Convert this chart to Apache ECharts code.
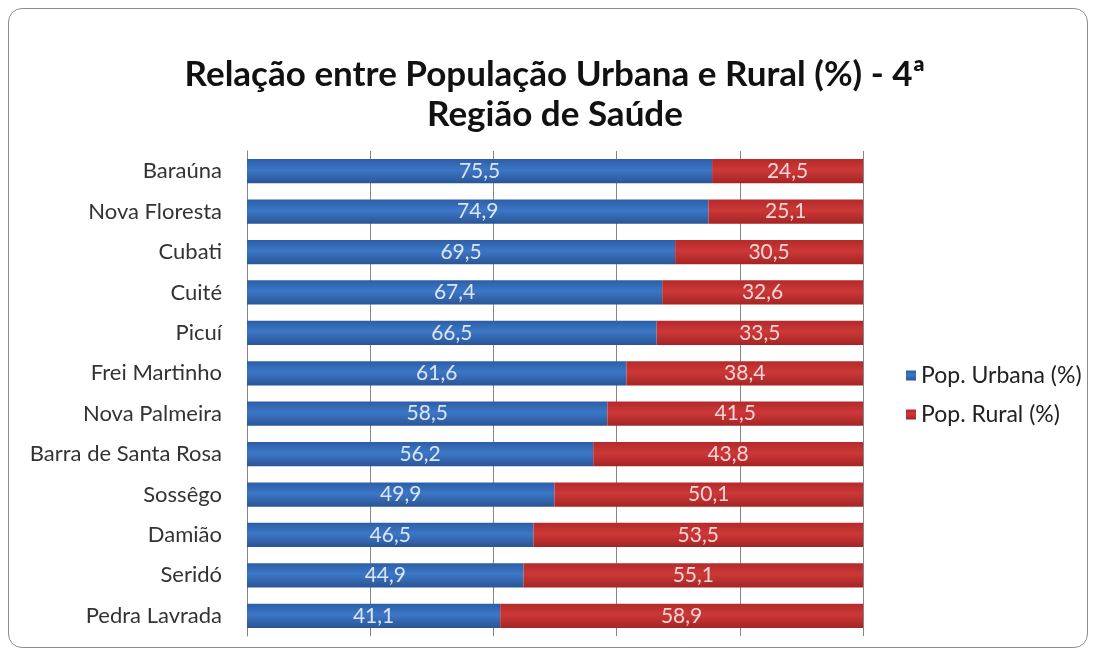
<!DOCTYPE html>
<html>
<head>
<meta charset="utf-8">
<script src="https://cdn.jsdelivr.net/npm/echarts@6/dist/echarts.min.js"></script>
<style>
  html, body { margin: 0; padding: 0; background: #fff; }
  #frame {
    position: absolute; left: 8px; top: 8px; width: 1080px; height: 640px;
    border: 1.5px solid #8c8c8c; border-radius: 14px; box-sizing: border-box;
  }
  #chart { position: absolute; left: 0; top: 0; width: 1097px; height: 655px; }
</style>
</head>
<body>
<div id="frame"></div>
<div id="chart"></div>
<script>
const cidades = ['Baraúna', 'Nova Floresta', 'Cubati', 'Cuité', 'Picuí', 'Frei Martinho',
  'Nova Palmeira', 'Barra de Santa Rosa', 'Sossêgo', 'Damião', 'Seridó', 'Pedra Lavrada']
const urbana = [75.5, 74.9, 69.5, 67.4, 66.5, 61.6, 58.5, 56.2, 49.9, 46.5, 44.9, 41.1]
const rural = [24.5, 25.1, 30.5, 32.6, 33.5, 38.4, 41.5, 43.8, 50.1, 53.5, 55.1, 58.9]

const fmt = (p) => p.value.toFixed(1).replace('.', ',')

const grad = (top, mid, bot) => new echarts.graphic.LinearGradient(0, 0, 0, 1, [
  {offset: 0, color: top}, {offset: 0.45, color: mid}, {offset: 1, color: bot}
])

const chart = echarts.init(document.getElementById('chart'))
const option = {
  textStyle: {fontFamily: 'Lato, "Open Sans", sans-serif'},
  title: {
    text: 'Relação entre População Urbana e Rural (%) - 4ª\nRegião de Saúde',
    left: 550, top: 50, textAlign: 'center',
    textStyle: {fontSize: 35, fontWeight: 'bold', color: '#111', lineHeight: 40}
  },
  legend: {
    orient: 'vertical',
    left: 901, top: 359,
    itemGap: 16,
    itemWidth: 10, itemHeight: 10,
    icon: 'rect',
    textStyle: {fontSize: 23, color: '#222'},
    data: ['Pop. Urbana (%)', 'Pop. Rural (%)']
  },
  grid: {left: 247, right: 234, top: 151, bottom: 19},
  xAxis: {
    type: 'value', min: 0, max: 100, interval: 20,
    axisLabel: {show: false},
    axisLine: {show: false},
    axisTick: {show: false},
    splitLine: {lineStyle: {color: '#868686', width: 1}}
  },
  yAxis: {
    type: 'category', data: cidades, inverse: true,
    axisLine: {lineStyle: {color: '#868686'}},
    axisTick: {show: false},
    axisLabel: {fontSize: 22, color: '#333', margin: 25}
  },
  series: [
    {
      name: 'Pop. Urbana (%)', type: 'bar', stack: 'total', barWidth: '60%',
      data: urbana,
      itemStyle: {color: grad('#2d5ea6', '#3c77c6', '#2a5596')},
      label: {show: true, position: 'inside', formatter: fmt, fontSize: 21, color: '#dbe5f4'}
    },
    {
      name: 'Pop. Rural (%)', type: 'bar', stack: 'total', barWidth: '60%',
      data: rural,
      itemStyle: {color: grad('#b42a2a', '#cc3838', '#a52424')},
      label: {show: true, position: 'inside', formatter: fmt, fontSize: 21, color: '#f6d6d4'}
    }
  ]
}
chart.setOption(option)
</script>
</body>
</html>
